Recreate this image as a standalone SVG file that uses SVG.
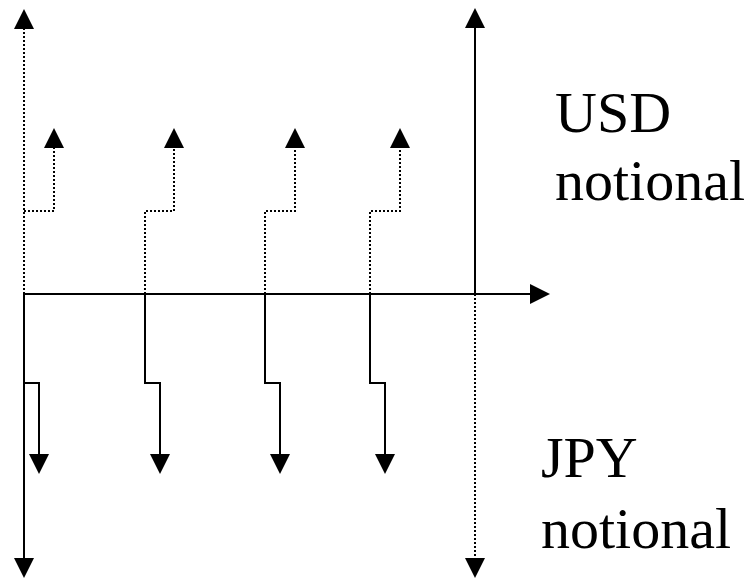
<svg xmlns="http://www.w3.org/2000/svg" width="752" height="582" viewBox="0 0 752 582">
<style>
.s{fill:none;stroke:#000;stroke-width:2}
.d{fill:none;stroke:#000;stroke-width:2;stroke-dasharray:2,2}
.t{font-family:"Liberation Serif","Times New Roman",serif;font-size:58px;fill:#000}
</style>
<defs>
<marker id="a" markerUnits="userSpaceOnUse" markerWidth="20" markerHeight="20" refX="0" refY="10" orient="auto" viewBox="0 0 20 20">
<path d="M0,0 L20,10 L0,20 z" fill="#000"/>
</marker>
</defs>
<rect width="752" height="582" fill="#fff"/>
<g id="connectors">
<line class="d" x1="24" y1="294" x2="24" y2="29" marker-end="url(#a)"/>
<line class="s" x1="24" y1="294" x2="24" y2="558" marker-end="url(#a)"/>
<line class="s" x1="475" y1="294" x2="475" y2="28" marker-end="url(#a)"/>
<line class="d" x1="475" y1="294" x2="475" y2="558" marker-end="url(#a)"/>
<line class="s" x1="24" y1="294" x2="530" y2="294" marker-end="url(#a)"/>
<polyline class="d" points="24,211 54,211 54,148" marker-end="url(#a)"/>
<polyline class="d" points="145,294 145,211 174,211 174,148" marker-end="url(#a)"/>
<polyline class="d" points="265,294 265,211 295,211 295,148" marker-end="url(#a)"/>
<polyline class="d" points="370,294 370,211 400,211 400,148" marker-end="url(#a)"/>
<polyline class="s" points="24,383 39,383 39,454" marker-end="url(#a)"/>
<polyline class="s" points="145,294 145,383 160,383 160,454" marker-end="url(#a)"/>
<polyline class="s" points="265,294 265,383 280,383 280,454" marker-end="url(#a)"/>
<polyline class="s" points="370,294 370,383 385,383 385,454" marker-end="url(#a)"/>
</g>
<g id="usd-label">
<text class="t" x="555" y="132">USD</text>
<text class="t" x="555" y="200">notional</text>
</g>
<g id="jpy-label">
<text class="t" x="541" y="477">JPY</text>
<text class="t" x="541" y="548">notional</text>
</g>
</svg>
